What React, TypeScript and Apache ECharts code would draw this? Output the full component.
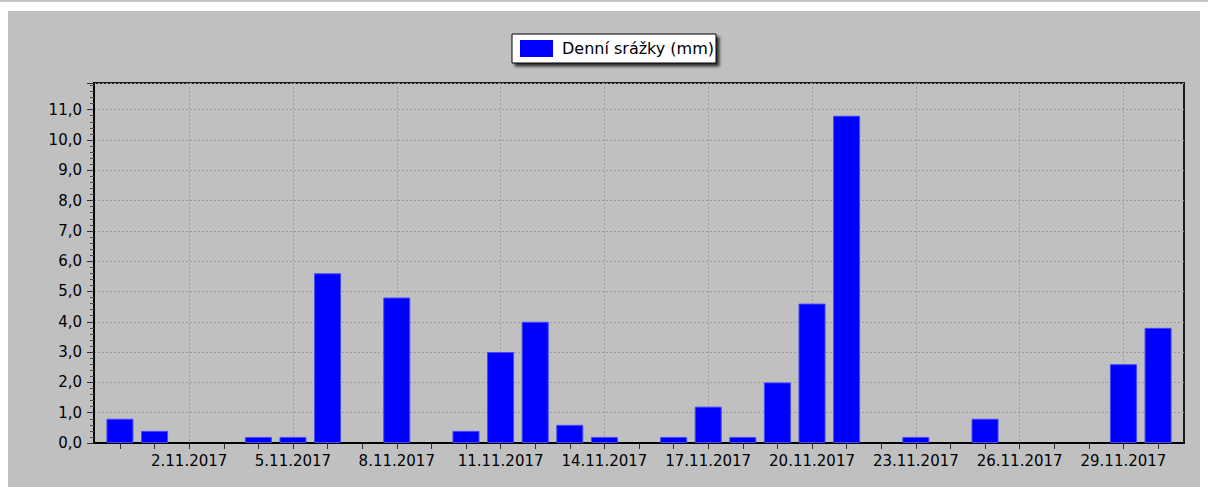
import React, { useEffect, useRef } from "react";
import * as echarts from "echarts";

const dates = [
  "31.10.2017", "1.11.2017", "2.11.2017", "3.11.2017", "4.11.2017", "5.11.2017",
  "6.11.2017", "7.11.2017", "8.11.2017", "9.11.2017", "10.11.2017", "11.11.2017",
  "12.11.2017", "13.11.2017", "14.11.2017", "15.11.2017", "16.11.2017", "17.11.2017",
  "18.11.2017", "19.11.2017", "20.11.2017", "21.11.2017", "22.11.2017", "23.11.2017",
  "24.11.2017", "25.11.2017", "26.11.2017", "27.11.2017", "28.11.2017", "29.11.2017",
  "30.11.2017",
];

const rainfall = [
  0.8, 0.4, 0, 0, 0.2, 0.2, 5.6, 0, 4.8, 0, 0.4, 3.0, 4.0, 0.6, 0.2, 0,
  0.2, 1.2, 0.2, 2.0, 4.6, 10.8, 0, 0.2, 0, 0.8, 0, 0, 0, 2.6, 3.8,
];

const labelDates = [
  "2.11.2017", "5.11.2017", "8.11.2017", "11.11.2017", "14.11.2017",
  "17.11.2017", "20.11.2017", "23.11.2017", "26.11.2017", "29.11.2017",
];

const seriesName = "Denní srážky (mm)";

export default function App() {
  const ref = useRef<HTMLDivElement>(null);

  useEffect(() => {
    if (!ref.current) return;
    const chart = echarts.init(ref.current, undefined, { renderer: "svg" });
    const font = "DejaVu Sans";
    const tickIdx = dates.map((_, i) => i);
    const labelIdx = labelDates.map((d) => dates.indexOf(d));
    const xMin = -0.75;
    const xMax = dates.length - 1 + 0.75;

    chart.setOption({
      animation: false,
      backgroundColor: "#c0c0c0",
      legend: {
        show: true,
        left: 504,
        top: 23,
        padding: [6, 2, 6, 8],
        itemWidth: 33,
        itemHeight: 17,
        icon: "rect",
        backgroundColor: "#ffffff",
        borderColor: "#000000",
        borderWidth: 1,
        borderRadius: 0,
        shadowColor: "rgba(0,0,0,0.75)",
        shadowBlur: 3,
        shadowOffsetX: 3,
        shadowOffsetY: 3,
        textStyle: { fontFamily: font, fontSize: 16, color: "#000", padding: [0, 0, 0, 4] },
        data: [{ name: seriesName, itemStyle: { color: "#0000ff", borderWidth: 0 } }],
      },
      grid: {
        left: 86,
        right: 24,
        top: 72,
        bottom: 44,
        show: true,
        borderColor: "#1a1a1a",
        borderWidth: 2,
        backgroundColor: "transparent",
      },
      xAxis: [
        {
          type: "value",
          min: xMin,
          max: xMax,
          position: "bottom",
          axisLine: { show: true, onZero: false, lineStyle: { color: "#000", width: 2 } },
          axisTick: { show: true, length: 6, customValues: tickIdx, lineStyle: { color: "#303030" } },
          axisLabel: {
            show: true,
            customValues: labelIdx,
            margin: 10,
            fontFamily: font,
            fontSize: 15,
            color: "#000",
            formatter: (v: number) => dates[Math.round(v)] ?? "",
          },
          splitLine: { show: false },
        },
        {
          type: "value",
          min: xMin,
          max: xMax,
          position: "bottom",
          axisLine: { show: false, onZero: false },
          axisTick: { show: false, customValues: labelIdx },
          axisLabel: { show: false, customValues: labelIdx },
          splitLine: { show: true, lineStyle: { color: "#9c9c9c", type: [2, 2], width: 1 } },
        },
      ],
      yAxis: {
        type: "value",
        min: 0,
        max: 11.88,
        interval: 1,
        position: "left",
        axisLine: { show: true, onZero: false, lineStyle: { color: "#000", width: 2 } },
        axisTick: { show: true, length: 7, lineStyle: { color: "#303030" } },
        minorTick: { show: true, splitNumber: 5, length: 4, lineStyle: { color: "#505050" } },
        axisLabel: {
          margin: 12,
          fontFamily: font,
          fontSize: 15,
          color: "#000",
          showMaxLabel: false,
          formatter: (v: number) => v.toFixed(1).replace(".", ","),
        },
        splitLine: { show: true, lineStyle: { color: "#9c9c9c", type: [2, 2], width: 1 } },
      },
      series: [
        {
          name: seriesName,
          type: "bar",
          xAxisIndex: 0,
          barWidth: 27,
          itemStyle: { color: "#0000ff", borderColor: "#4646ff", borderWidth: 1 },
          data: rainfall.map((v, i) => [i, v === 0 ? null : v]),
        },
      ],
    });

    return () => chart.dispose();
  }, []);

  return (
    <div style={{ position: "relative" }}>
      <div
        style={{
          position: "fixed",
          left: 0,
          top: 0,
          width: 1208,
          height: 2,
          background: "#c6c6c6",
        }}
      />
      <div ref={ref} style={{ width: 1200, height: 476, marginTop: 3 }} />
    </div>
  );
}
